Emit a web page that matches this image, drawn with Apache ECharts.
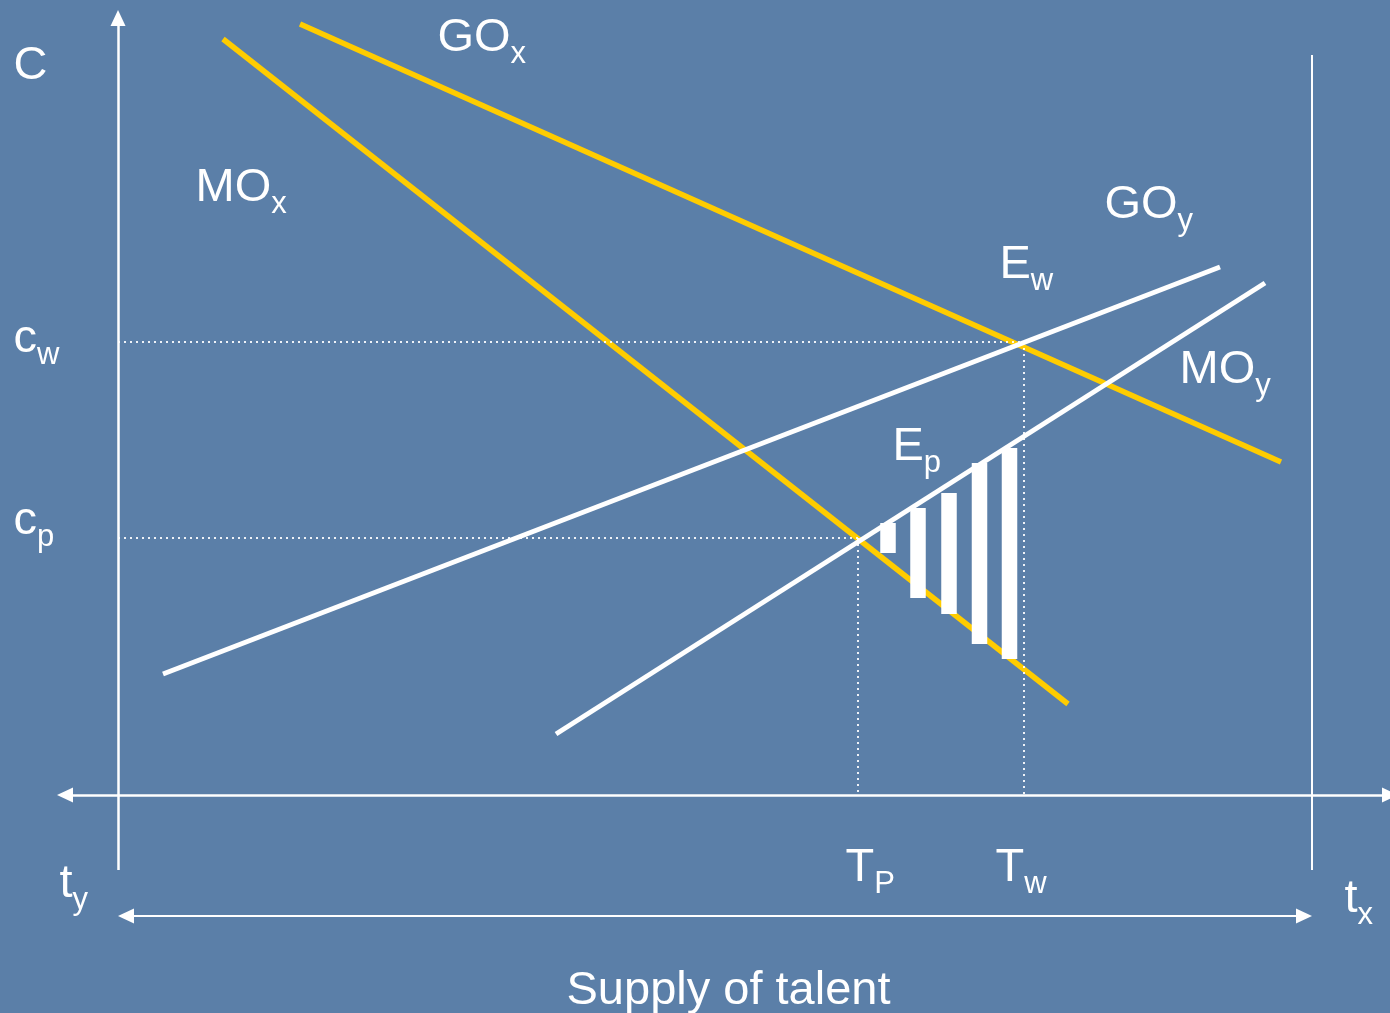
<!DOCTYPE html>
<html>
<head>
<meta charset="utf-8">
<title>Supply of talent</title>
<script src="https://cdn.jsdelivr.net/npm/echarts@6/dist/echarts.min.js"></script>
<style>
  html, body { margin: 0; padding: 0; background: #5b7fa8; }
  #chart { width: 1390px; height: 1013px; }
</style>
</head>
<body>
<div id="chart"></div>
<script>
  // diagram units: x to the right, y downward (same orientation as the slide)
  const goX = [[300, 24], [1281, 462]];
  const moX = [[223, 39], [1068, 704]];
  const goY = [[163, 674], [1220, 267]];
  const moY = [[556, 734], [1265, 283]];

  // wedge between MOy and MOx, [x, top, bottom]
  const wedgeBars = [
    [888, 523, 553],
    [918, 508, 598],
    [949, 493, 614],
    [979.5, 463, 644],
    [1009.5, 448, 659]
  ];

  const cW = 342, cP = 538;
  const tW = 1024, tP = 858;

  // [main, subscript, x, y]
  const labels = [
    ['C', '', 16, 47],
    ['GO', 'x', 440, 18],
    ['MO', 'x', 198, 168],
    ['GO', 'y', 1107, 185],
    ['E', 'w', 1002, 245],
    ['MO', 'y', 1182, 350],
    ['E', 'p', 895, 427],
    ['c', 'w', 16, 319],
    ['c', 'p', 16, 501],
    ['T', 'P', 848, 848],
    ['T', 'w', 998, 848],
    ['t', 'y', 62, 864],
    ['t', 'x', 1347, 879]
  ];
  const xTitle = ['Supply of talent', 729, 972];

  const FONT = '"Liberation Sans", Arial, sans-serif';
  const YELLOW = '#ffcc00';
  const WHITE = '#ffffff';

  let chart = echarts.init(document.getElementById('chart'));

  function curve(name, pts, color, w) {
    return {
      name: name,
      type: 'line',
      data: pts,
      symbol: 'none',
      silent: true,
      lineStyle: { color: color, width: w },
      z: 3
    };
  }

  function seg(a, b, style, sym) {
    return [
      { coord: a, symbol: sym[0], lineStyle: style },
      { coord: b, symbol: sym[1] }
    ];
  }

  const axisStyle = { color: WHITE, width: 2.5, type: 'solid' };
  const thinStyle = { color: WHITE, width: 2, type: 'solid' };
  const dotStyle = { color: WHITE, width: 2, type: [2, 4], opacity: 0.9 };

  const rich = {
    m: { fontSize: 47, lineHeight: 50, padding: [0, 0, 8, 0], verticalAlign: 'bottom', color: WHITE, fontFamily: FONT },
    s: { fontSize: 31, lineHeight: 58, verticalAlign: 'bottom', color: WHITE, fontFamily: FONT }
  };

  // labels without a subscript sit on a shorter line box
  const noSubShift = 7;

  let labelData = labels.map(function (l) {
    return {
      value: [l[2] - 2, l[3] - 6 + (l[1] ? 0 : noSubShift)],
      label: { formatter: l[1] ? '{m|' + l[0] + '}{s|' + l[1] + '}' : '{m|' + l[0] + '}' }
    };
  });
  labelData.push({
    value: [xTitle[1], xTitle[2] - 6 + noSubShift],
    label: { formatter: '{m|' + xTitle[0] + '}', align: 'center' }
  });

  let option = {
    backgroundColor: '#5b7fa8',
    animation: false,
    grid: { left: 0, top: 0, right: 0, bottom: 0 },
    xAxis: { type: 'value', min: 0, max: 1390, show: false },
    yAxis: { type: 'value', min: 0, max: 1013, inverse: true, show: false },
    series: [
      {
        name: 'frame',
        type: 'line',
        data: [],
        silent: true,
        markLine: {
          silent: true,
          animation: false,
          symbolSize: [15, 16],
          label: { show: false },
          emphasis: { disabled: true },
          data: [
            seg([118, 870], [118, 18], axisStyle, ['none', 'triangle']),
            seg([65, 795], [1390, 795], axisStyle, ['triangle', 'triangle']),
            seg([1312, 55], [1312, 870], thinStyle, ['none', 'none']),
            seg([126, 916], [1304, 916], thinStyle, ['triangle', 'triangle']),
            seg([118, cW], [tW, cW], dotStyle, ['none', 'none']),
            seg([tW, cW], [tW, 795], dotStyle, ['none', 'none']),
            seg([118, cP], [tP, cP], dotStyle, ['none', 'none']),
            seg([tP, cP], [tP, 795], dotStyle, ['none', 'none'])
          ]
        }
      },
      curve('GOx', goX, YELLOW, 5.5),
      curve('MOx', moX, YELLOW, 5.5),
      curve('GOy', goY, WHITE, 5),
      curve('MOy', moY, WHITE, 5),
      {
        name: 'wedge',
        type: 'custom',
        silent: true,
        data: wedgeBars,
        encode: { x: 0, y: [1, 2] },
        z: 4,
        renderItem: function (params, api) {
          let top = api.coord([api.value(0), api.value(1)]);
          let bottom = api.coord([api.value(0), api.value(2)]);
          let w = api.size([15.5, 0])[0];
          return {
            type: 'rect',
            shape: { x: top[0] - w / 2, y: top[1], width: w, height: bottom[1] - top[1] },
            style: { fill: WHITE }
          };
        }
      },
      {
        name: 'labels',
        type: 'scatter',
        data: labelData,
        symbolSize: 1,
        silent: true,
        itemStyle: { color: 'rgba(0,0,0,0)', opacity: 1 },
        label: { show: true, position: [0, 0], rich: rich, opacity: 1 },
        z: 5
      }
    ]
  };

  chart.setOption(option);
</script>
</body>
</html>
